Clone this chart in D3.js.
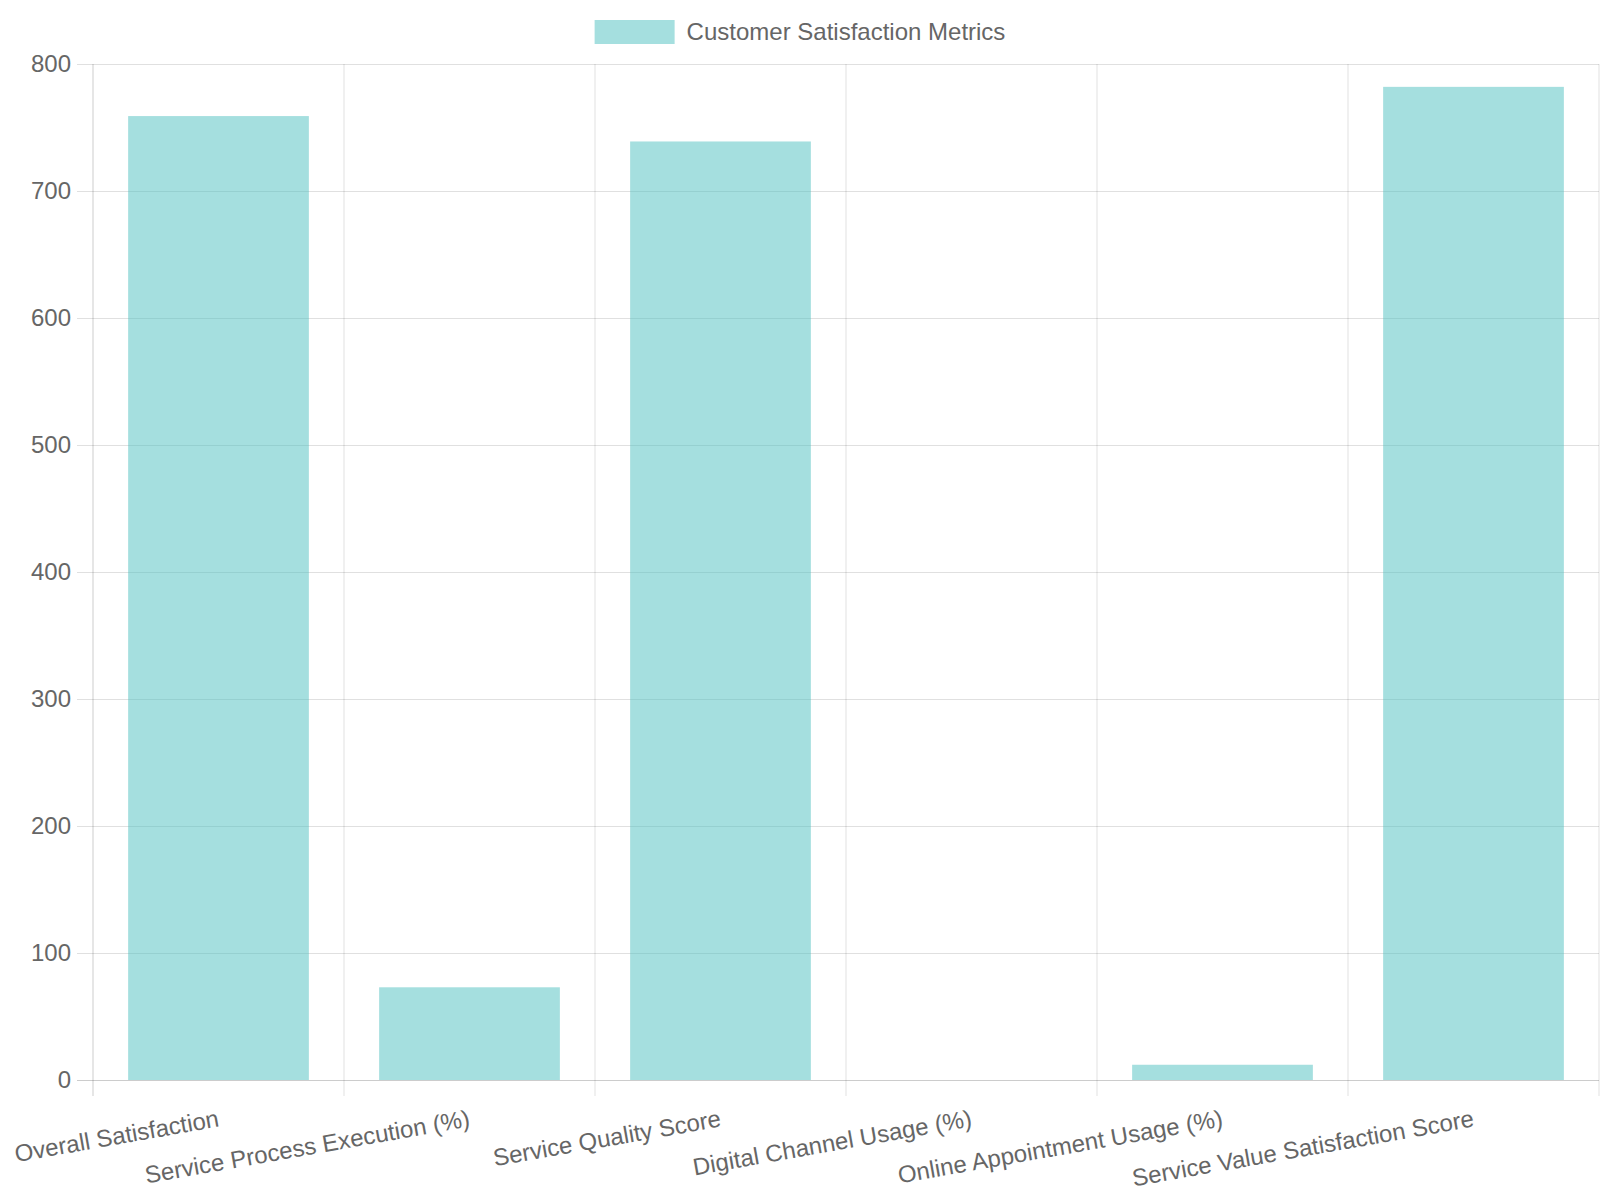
<!DOCTYPE html>
<html>
<head>
<meta charset="utf-8">
<script src="https://cdn.jsdelivr.net/npm/d3@7"></script>
<style>
  body { margin: 0; background: #fff; }
  svg { display: block; font-family: "Liberation Sans", Arial, Helvetica, sans-serif; }
</style>
</head>
<body>
<div class="chart"></div>
<script>
//Data
var categories = ["Overall Satisfaction", "Service Process Execution (%)", "Service Quality Score",
    "Digital Channel Usage (%)", "Online Appointment Usage (%)", "Service Value Satisfaction Score"];
var values = [759, 73, 739, 0, 12, 782];
var seriesName = "Customer Satisfaction Metrics";
var yTicks = [0, 100, 200, 300, 400, 500, 600, 700, 800];

//Width, height and plot area
var w = 1600;
var h = 1200;
var plotLeft = 93, plotRight = 1599, plotTop = 64, plotBottom = 1080;
var tickLen = 16;
var barColor = "rgba(75,192,192,0.5)";
var textColor = "#666";
var gridColor = "rgba(0,0,0,0.12)";
var axisColor = "rgba(0,0,0,0.2)";

var svg = d3.select(".chart")
    .append("svg")
    .attr("width", w)
    .attr("height", h);

//Scales
var xScale = d3.scaleBand()
    .domain(categories)
    .range([plotLeft, plotRight]);

var barScale = d3.scaleBand()
    .domain(categories)
    .range([plotLeft, plotRight])
    .paddingInner(0.28)
    .paddingOuter(0.14);

var yScale = d3.scaleLinear()
    .domain([0, 800])
    .range([plotBottom, plotTop]);

//Horizontal grid + y ticks
var yAxis = d3.axisLeft(yScale)
    .tickValues(yTicks)
    .tickSize(-(plotRight - plotLeft + tickLen))
    .tickPadding(6)
    .tickFormat(d3.format("d"));

var gy = svg.append("g")
    .attr("transform", "translate(" + (plotLeft - tickLen) + ",0)")
    .call(yAxis);
gy.select(".domain").remove();
gy.selectAll(".tick line")
    .attr("stroke", d => d === 0 ? axisColor : gridColor);
gy.selectAll(".tick text")
    .attr("fill", textColor)
    .style("font-size", "24px")
    .style("font-family", "Liberation Sans, Arial, sans-serif");

//Vertical grid at category boundaries
var bounds = categories.map(c => xScale(c)).concat([plotRight]);
svg.append("g")
    .selectAll("line")
    .data(bounds)
    .enter()
    .append("line")
    .attr("x1", d => d)
    .attr("x2", d => d)
    .attr("y1", plotTop)
    .attr("y2", plotBottom + tickLen)
    .attr("stroke", (d, i) => i === 0 ? axisColor : gridColor)
    .attr("stroke-width", 1);

//Bars
svg.append("g")
    .selectAll("rect")
    .data(values)
    .enter()
    .append("rect")
    .attr("x", (d, i) => barScale(categories[i]))
    .attr("y", d => yScale(d))
    .attr("width", barScale.bandwidth())
    .attr("height", d => plotBottom - yScale(d))
    .attr("fill", barColor);

//X labels, rotated
svg.append("g")
    .selectAll("text")
    .data(categories)
    .enter()
    .append("text")
    .attr("transform", d => "translate(" + (xScale(d) + xScale.bandwidth() / 2) + "," + (plotBottom + tickLen + 22) + ") rotate(-10)")
    .attr("text-anchor", "end")
    .attr("dy", "0.35em")
    .attr("fill", textColor)
    .style("font-size", "24px")
    .text(d => d);

//Legend
var legend = svg.append("g");
var legendText = legend.append("text")
    .attr("y", 32)
    .attr("dy", "0.35em")
    .attr("fill", textColor)
    .style("font-size", "24px")
    .text(seriesName);
var tw = legendText.node().getComputedTextLength();
var lx = w / 2 - (80 + 12 + tw) / 2;
legend.append("rect")
    .attr("x", lx)
    .attr("y", 20)
    .attr("width", 80)
    .attr("height", 24)
    .attr("fill", barColor);
legendText.attr("x", lx + 92);
</script>
</body>
</html>
